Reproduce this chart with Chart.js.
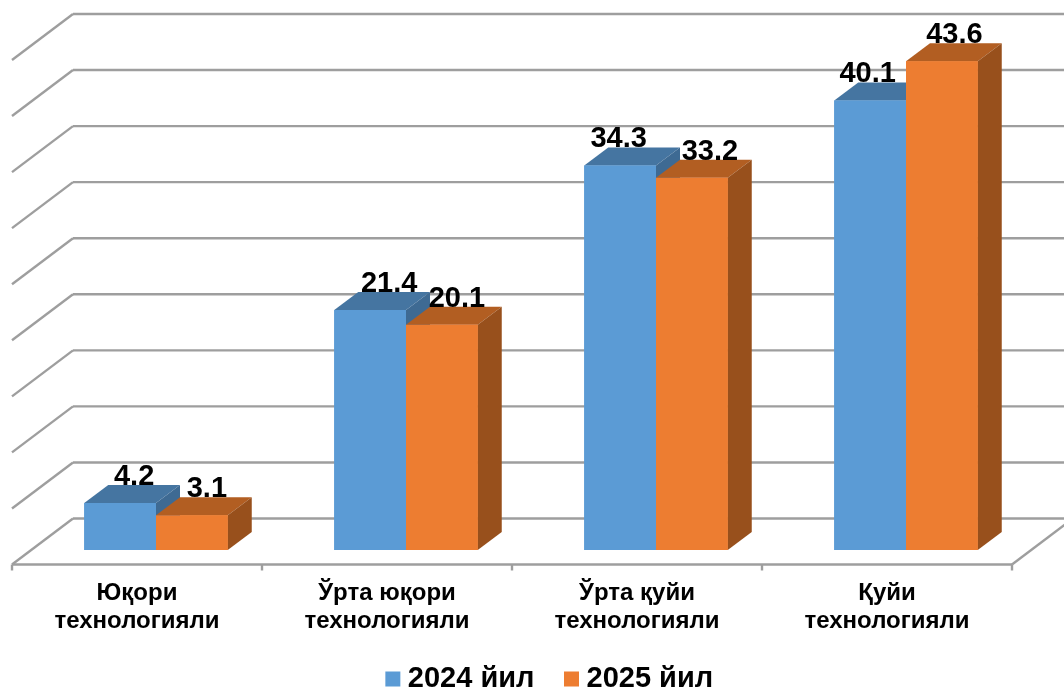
<!DOCTYPE html>
<html>
<head>
<meta charset="utf-8">
<style>html,body{margin:0;padding:0;background:#fff}canvas{display:block}</style>
<script src="https://cdn.jsdelivr.net/npm/chart.js@4"></script>
</head>
<body>
<canvas id="c" width="1064" height="691"></canvas>
<script>
const categories = [["Юқори","технологияли"],["Ўрта юқори","технологияли"],["Ўрта қуйи","технологияли"],["Қуйи","технологияли"]];
const seriesNames = ["2024 йил","2025 йил"];
const values2024 = [4.2,21.4,34.3,40.1];
const values2025 = [3.1,20.1,33.2,43.6];
const labelNudge = [[14,19,-1.5,-2.5],[15,15,18,12.5]];

const FONT = '"Liberation Sans", Arial, sans-serif';
const DEPTH_X = 24, DEPTH_Y = 18;
const FRONT_DX = -19, FRONT_DY = 14.5, BACK_DX = 42, BACK_DY = -31.5;
const faces = [{top:"#4575A1",side:"#3E6A93"},{top:"#B25E22",side:"#98501C"}];
const GRID = "#9E9E9E";

function poly(ctx, pts, fill){
  ctx.beginPath();
  pts.forEach((p,i)=> i ? ctx.lineTo(p[0],p[1]) : ctx.moveTo(p[0],p[1]));
  ctx.closePath(); ctx.fillStyle = fill; ctx.fill();
}
function seg(ctx,x1,y1,x2,y2){ctx.beginPath();ctx.moveTo(x1,y1);ctx.lineTo(x2,y2);ctx.stroke();}

const walls = {
  id:"walls",
  afterLayout(chart){
    const l = chart.legend;
    l.left += 21.75; l.right += 21.75; l.top += 12.5; l.bottom += 12.5;
    chart.scales.x.bottom = chart.height;
  },
  beforeDatasetsDraw(chart){
    const ctx = chart.ctx, x = chart.scales.x, y = chart.scales.y;
    const fl = x.left+FRONT_DX, fr = x.right+FRONT_DX, bl = x.left+BACK_DX, br = x.right+BACK_DX;
    ctx.save(); ctx.strokeStyle = GRID; ctx.lineWidth = 2.4;
    y.ticks.forEach(t=>{
      const p = y.getPixelForValue(t.value);
      seg(ctx, fl, p+FRONT_DY, bl, p+BACK_DY);
      seg(ctx, bl, p+BACK_DY, br, p+BACK_DY);
    });
    const p0 = y.getPixelForValue(0);
    seg(ctx, fl, p0+FRONT_DY, fr, p0+FRONT_DY);
    seg(ctx, fr, p0+FRONT_DY, br, p0+BACK_DY);
    const n = categories.length;
    for(let i=0;i<=n;i++){
      const tx = fl+(fr-fl)*i/n;
      seg(ctx, tx, p0+FRONT_DY, tx, p0+FRONT_DY+6);
    }
    ctx.restore();
  },
  afterDatasetsDraw(chart){
    const ctx = chart.ctx;
    chart.data.datasets.forEach((d,di)=>{
      const f = faces[di];
      chart.getDatasetMeta(di).data.forEach(b=>{
        const l = b.x-b.width/2, r = b.x+b.width/2, t = b.y, bt = b.base;
        poly(ctx,[[l,t],[r,t],[r+DEPTH_X,t-DEPTH_Y],[l+DEPTH_X,t-DEPTH_Y]],f.top);
        poly(ctx,[[r,t],[r+DEPTH_X,t-DEPTH_Y],[r+DEPTH_X,bt-DEPTH_Y],[r,bt]],f.side);
        b.draw(ctx);
      });
    });
    ctx.save();
    ctx.font = "bold 29px "+FONT; ctx.fillStyle = "#000";
    ctx.textAlign = "center"; ctx.textBaseline = "alphabetic";
    chart.data.datasets.forEach((d,di)=>{
      chart.getDatasetMeta(di).data.forEach((b,i)=>{
        ctx.fillText(d.data[i].toFixed(1), b.x+labelNudge[di][i], b.y-DEPTH_Y);
      });
    });
    ctx.restore();
  }
};

new Chart(document.getElementById("c"),{
  type:"bar",
  data:{labels:categories,datasets:[
    {label:seriesNames[0],data:values2024,backgroundColor:"#5B9BD5",clip:false},
    {label:seriesNames[1],data:values2025,backgroundColor:"#ED7D31",clip:false}
  ]},
  plugins:[walls],
  options:{
    responsive:false,animation:false,devicePixelRatio:1,
    layout:{padding:{left:31,right:33,top:45.5,bottom:0}},
    datasets:{bar:{categoryPercentage:0.574,barPercentage:1,borderWidth:0}},
    scales:{
      x:{
        grid:{display:false},border:{display:false},
        afterFit(s){s.height=65.5;},
        ticks:{color:"#000",font:{family:FONT,weight:"bold",size:24,lineHeight:1.167},padding:21,labelOffset:FRONT_DX,maxRotation:0,autoSkip:false}
      },
      y:{
        min:0,max:45,grid:{display:false},border:{display:false},
        afterFit(s){s.width=0;},
        ticks:{display:false,stepSize:5}
      }
    },
    plugins:{
      tooltip:{enabled:false},
      title:{display:false},
      legend:{
        position:"bottom",
        labels:{
          color:"#000",font:{family:FONT,weight:"bold",size:29},
          boxWidth:1,boxHeight:1,padding:36.5,
          generateLabels(chart){
            return chart.data.datasets.map((d,i)=>({text:d.label,fillStyle:d.backgroundColor,strokeStyle:d.backgroundColor,fontColor:"#000",lineWidth:14,datasetIndex:i}));
          }
        }
      }
    }
  }
});
</script>
</body>
</html>
